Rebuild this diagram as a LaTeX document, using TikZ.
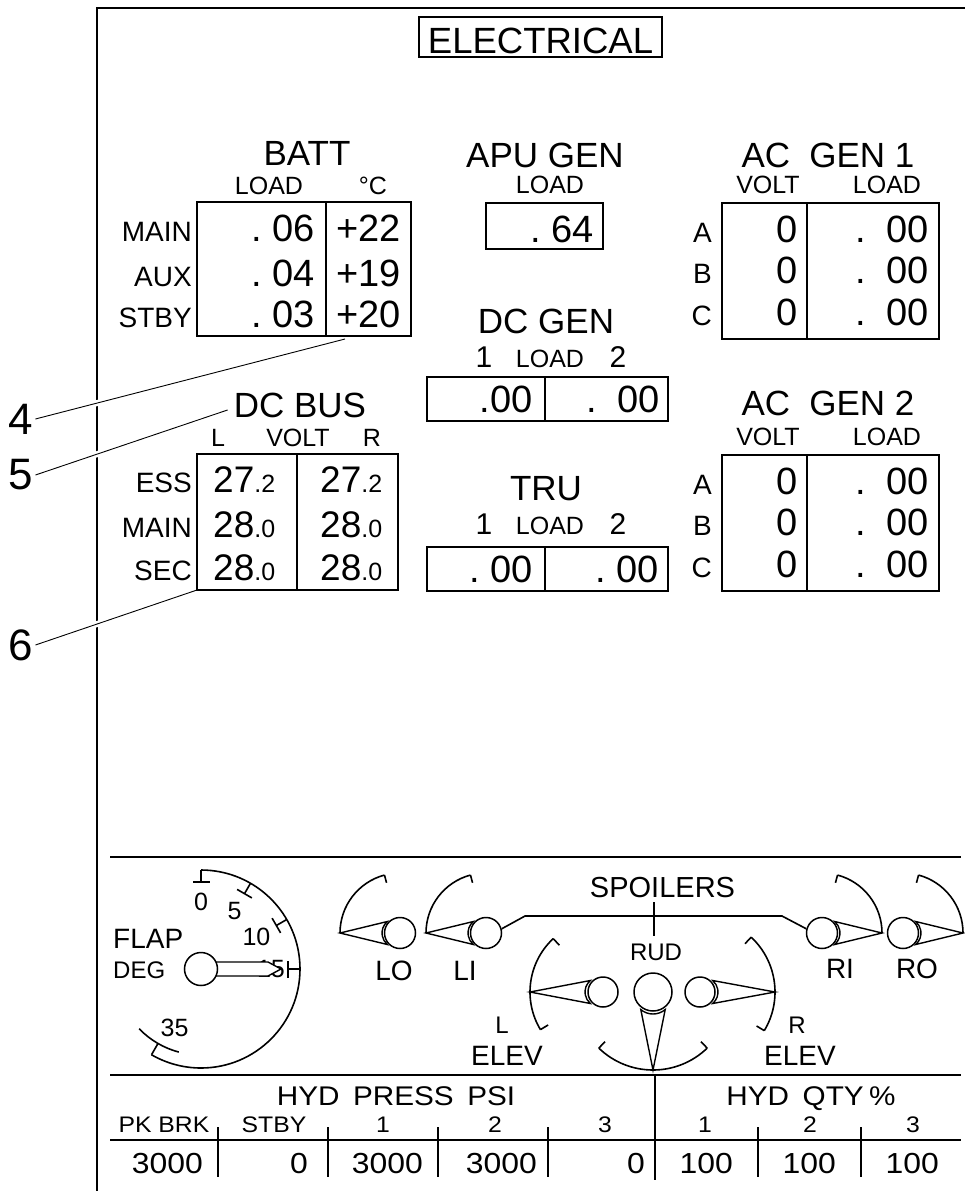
\documentclass[tikz,border=0pt]{standalone}
\usepackage{fontspec}
\setmainfont{Liberation Sans}
\newfontfamily\widefont[FakeStretch=1.1]{Liberation Sans}
\usetikzlibrary{positioning, calc}

\newcommand{\fsz}[1]{\fontsize{#1}{#1}\selectfont}

\tikzset{
  rule/.style={line width=1.6pt},
  title/.style={font=\fsz{35}, inner sep=0pt, anchor=base},
  colhead/.style={font=\fsz{25}, inner sep=0pt, anchor=base},
  rowlabel/.style={font=\fsz{28}, inner sep=0pt, anchor=base east},
  reading/.style={font=\fsz{38}, inner sep=0pt, anchor=base east},
  busval/.style={font=\fsz{37}, inner sep=0pt, anchor=base west},
  callout/.style={font=\fsz{44}, inner sep=2pt},
  leader/.style={line width=0.9pt,
    preaction={draw=white, line width=6pt, shorten <=14pt, shorten >=14pt}},
  hub/.style={circle, draw, line width=1.5pt, fill=white, inner sep=0pt, minimum size=#1},
  hub/.default=31pt,
  surface/.style={font=\fsz{28}, inner sep=0pt, anchor=base},
  side/.style={font=\fsz{24}, inner sep=0pt, anchor=base},
  dial/.style={font=\fsz{25}, inner sep=0pt},
  hydhead/.style={font=\widefont\fsz{27}, inner sep=0pt, anchor=base},
  hydcol/.style={font=\widefont\fsz{22.5}, inner sep=0pt, anchor=base},
  hydval/.style={font=\widefont\fsz{29}, inner sep=0pt, anchor=base east},
}

\begin{document}
\begin{tikzpicture}[x=1pt, y=-1pt]
  \useasboundingbox (0,0) rectangle (965,1191);

  % outer frame and page title
  \draw[rule] (965,8) -- (97,8) -- (97,1191);
  \draw[line width=1.3pt] (419,17) rectangle (662,57);
  \node[title, font=\fsz{36.5}] (elec) at (540.5,53) {ELECTRICAL};

  % battery
  \node[title] (batt) at (307,165) {BATT};
  \node[colhead] (batt-load) at (269,194) {LOAD};
  \node[colhead] (batt-temp) at (373,194) {°C};
  \draw[rule] (197,202) rectangle (411,336) (326,202) -- (326,336);
  \foreach \yb/\row/\lv/\tv in {241/MAIN/06/+22, 286/AUX/04/+19, 327/STBY/03/+20} {
    \node[rowlabel] (batt-\row) at (192,\yb) {\row};
    \node[reading] (batt-\row-load) at (315,\yb) {.\ \lv};
    \node[reading] (batt-\row-temp) at (401,\yb) {\tv};
  }
  \coordinate (batt-tip) at (345,339);

  % apu generator
  \node[title] (apu) at (545,167) {APU GEN};
  \node[colhead] (apu-load) at (550,193) {LOAD};
  \draw[rule] (486,203) rectangle (603,249);
  \node[reading] (apu-val) at (594,242) {.\ 64};

  % ac generators
  \foreach \yt/\n/\yh in {203/1/167, 455/2/415} {
    \node[title] (acgen\n) at (828,\yh) {AC\hspace{0.55em}GEN \n};
    \node[colhead] (acgen\n-volt) at (768,\yt-10) {VOLT};
    \node[colhead] (acgen\n-load) at (887,\yt-10) {LOAD};
    \draw[rule] (722,\yt) rectangle (939,\yt+136) (807,\yt) -- (807,\yt+136);
    \foreach \dy/\ph in {39/A, 80/B, 122/C} {
      \node[rowlabel] (acgen\n-\ph) at (712,\yt+\dy) {\ph};
      \node[reading] (acgen\n-\ph-volt) at (798,\yt+\dy) {0};
      \node[reading] (acgen\n-\ph-load) at (929,\yt+\dy) {.\hspace{0.55em}00};
    }
  }

  % dc generators
  \node[title] (dcgen) at (546,333) {DC GEN};
  \node[title, font=\fsz{30}] (dcgen-1) at (484,367) {1};
  \node[colhead] (dcgen-load) at (550,367) {LOAD};
  \node[title, font=\fsz{30}] (dcgen-2) at (618,367) {2};
  \draw[rule] (427,377) rectangle (668,421) (545,377) -- (545,421);
  \node[reading] (dcgen-1-val) at (533,412) {.00};
  \node[reading] (dcgen-2-val) at (660,412) {.\hspace{0.55em}00};

  % transformer rectifiers
  \node[title] (tru) at (546,500) {TRU};
  \node[title, font=\fsz{30}] (tru-1) at (484,534) {1};
  \node[colhead] (tru-load) at (550,534) {LOAD};
  \node[title, font=\fsz{30}] (tru-2) at (618,534) {2};
  \draw[rule] (427,547) rectangle (668,591) (545,547) -- (545,591);
  \node[reading] (tru-1-val) at (533,582) {.\ 00};
  \node[reading] (tru-2-val) at (659,582) {.\ 00};

  % dc bus
  \node[title] (dcbus) at (300,417) {DC BUS};
  \node[colhead] (dcbus-l) at (218,446) {L};
  \node[colhead] (dcbus-volt) at (298,446) {VOLT};
  \node[colhead] (dcbus-r) at (372,446) {R};
  \draw[rule] (197,454) rectangle (398,590) (297,454) -- (297,590);
  \foreach \yb/\row/\iv/\dv in {492/ESS/27/2, 537/MAIN/28/0, 580/SEC/28/0} {
    \node[rowlabel] (bus-\row) at (192,\yb) {\row};
    \node[busval] (bus-\row-l) at (213,\yb) {\iv\fsz{25}.\dv};
    \node[busval] (bus-\row-r) at (320,\yb) {\iv\fsz{25}.\dv};
  }
  \coordinate (bus-corner) at (197,590);

  % callouts
  \node[callout] (c4) at (21,419) {4};
  \node[callout] (c5) at (21,475) {5};
  \node[callout] (c6) at (21,645) {6};
  \draw[leader] (c4.east) -- (batt-tip);
  \draw[leader] (c5.east) -- ([shift={(-6,5)}]dcbus.west);
  \draw[leader] (c6.east) -- (bus-corner);

  % flight controls strip
  \draw[rule] (110,857) -- (961,857);
  \draw[rule] (110,1075) -- (961,1075);
  \draw[rule] (110,1140) -- (961,1140);

  % flap dial
  \coordinate (flap) at (201,969);
  \node[surface, anchor=base west] (flap-lab) at (113,948) {FLAP};
  \node[side, anchor=base west] (deg-lab) at (113,978) {DEG};
  \draw[rule] ($(flap)+(-90:99)$) arc[start angle=-90, end angle=120, radius=99];
  \foreach \v in {0,5,10,15} {
    \draw[rule] ($(flap)+(-90+6*\v:99)$) -- ($(flap)+(-90+6*\v:87)$);
    \draw[rule] ($(flap)+(-90+6*\v:87)+(6*\v:8.5)$) -- ($(flap)+(-90+6*\v:87)+(180+6*\v:8.5)$);
  }
  \draw[rule] ($(flap)+(120:99)$) -- ($(flap)+(120:86)$);
  \draw[rule] ($(flap)+(105:86)$) arc[start angle=105, end angle=136, radius=86];
  \foreach \v/\t/\r in {0/-90/67, 5/-60/67, 10/-30/64, 15/0/70, 35/114/65}
    \node[dial] (flap-\v) at ($(flap)+(\t:\r)$) {\v};
  \draw[line width=1.4pt, fill=white] ($(flap)+(15,-7)$) -- ++(52,0) -- ++(13,7) -- ++(-13,7) -- ++(-52,0) -- cycle;
  \node[hub=33pt] (flap-hub) at (flap) {};

  % spoilers
  \foreach \sp/\x/\a/\b in {lo/400/180/255, li/486/180/255, ri/822/0/-75, ro/903/0/-75} {
    \coordinate (\sp) at (\x,933);
    \draw[rule] ($(\sp)+(\a:60)$) arc[start angle=\a, end angle=\b, radius=60];
    \draw[rule] ($(\sp)+(\b:60)$) -- ($(\sp)+(\b:52)$);
    \draw[line width=1.4pt, fill=white] ($(\sp)+(\a:60)$) -- ($(\sp)+(\a:3)+(\a+50:15)$)
      arc[start angle=\a+50, end angle=\a-50, radius=15] -- cycle;
    \node[hub] (\sp-hub) at (\sp) {};
  }
  \node[surface] (lo-lab) at (394,980) {LO};
  \node[surface] (li-lab) at (465,980) {LI};
  \node[surface] (ri-lab) at (840,978) {RI};
  \node[surface] (ro-lab) at (917,978) {RO};
  \node[surface, font=\fsz{29}] (spoilers) at (662.5,897) {SPOILERS};
  \coordinate (sp-l) at (525,916);
  \coordinate (sp-r) at (782,916);
  \draw[rule] (li-hub.15) -- (sp-l) -- (sp-r) -- (ri-hub.165);
  \draw[rule] (654,902) -- (654,936);

  % elevators and rudder
  \foreach \sp/\x/\a/\s/\e/\r/\hr/\w/\hs in {lelev/603/180/149/227/73/15/50/30pt, relev/700/0/-47/31/75/15/50/30pt, rud/653/90/46/134/78/19/40/38pt} {
    \coordinate (\sp) at (\x,992);
    \draw[rule] ($(\sp)+(\s:\r)$) arc[start angle=\s, end angle=\e, radius=\r];
    \draw[rule] ($(\sp)+(\s:\r)$) -- ($(\sp)+(\s:\r-9)$);
    \draw[rule] ($(\sp)+(\e:\r)$) -- ($(\sp)+(\e:\r-9)$);
    \draw[line width=1.4pt, fill=white] ($(\sp)+(\a:\r)$) -- ($(\sp)+(\a:3)+(\a+\w:\hr)$)
      arc[start angle=\a+\w, end angle=\a-\w, radius=\hr] -- cycle;
    \node[hub=\hs] (\sp-hub) at (\sp) {};
  }
  \node[side] (rud-lab) at (656,960) {RUD};
  \node[side] (lelev-side) at (502,1033) {L};
  \node[surface] (lelev-lab) at (507,1065) {ELEV};
  \node[side] (relev-side) at (797,1033) {R};
  \node[surface] (relev-lab) at (800,1065) {ELEV};

  % hydraulics table
  \draw[rule] (655,1075) -- (655,1180);
  \foreach \x in {218,328,438,548,758,861}
    \draw[rule] (\x,1127) -- (\x,1177);
  \node[hydhead] (hyd-press) at (396,1105) {HYD\hspace{0.5em}PRESS\hspace{0.5em}PSI};
  \node[hydhead] (hyd-qty) at (811,1105) {HYD\hspace{0.5em}QTY\hspace{0.2em}\%};
  \foreach \x/\t [count=\i] in {164/PK BRK, 274/STBY, 383/1, 495/2, 605/3, 705/1, 810/2, 913/3}
    \node[hydcol] (hyd-col\i) at (\x,1132) {\t};
  \foreach \x/\t [count=\i] in {203/3000, 308/0, 423/3000, 537/3000, 645/0, 733/100, 836/100, 939/100}
    \node[hydval] (hyd-val\i) at (\x,1173) {\t};
\end{tikzpicture}
\end{document}
